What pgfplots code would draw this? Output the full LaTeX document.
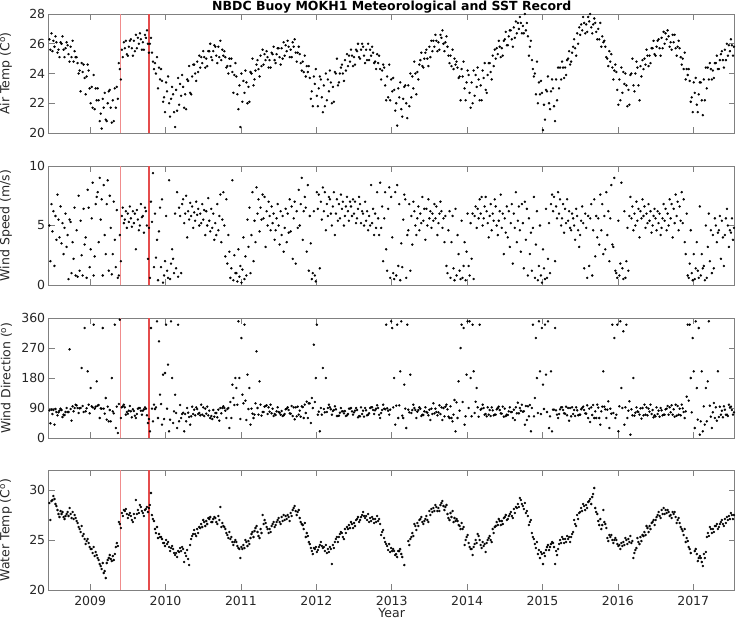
\documentclass[border=0pt]{standalone}
\usepackage{fontspec}
\setmainfont{DejaVu Sans}
\usepackage{pgfplots}
\pgfplotsset{compat=1.18}
\usepackage{pgfplotstable}

\pgfplotstableread{
x a1 a2 a3 s1 s2 s3 d1 d2 d3 w1 w2 w3
2008.46 26.3 25.6 26.7 5.0 2.0 6.8 83 44 85 28.7 27.0 28.9
2008.50 25.5 26.2 25.8 4.5 6.2 1.6 72 84 40 29.0 29.4 29.1
2008.54 26.5 26.1 25.4 5.8 3.8 7.6 87 78 68 28.6 28.4 28.0
2008.58 25.6 25.1 26.1 5.5 4.0 6.6 77 82 88 27.6 27.3 27.9
2008.62 26.0 26.5 25.6 3.5 5.2 2.6 84 63 70 27.6 27.8 27.3
2008.66 25.1 25.7 26.1 4.8 6.0 3.2 69 78 90 27.1 27.4 27.6
2008.70 25.9 25.3 24.8 4.2 0.5 5.5 78 78 266 27.8 27.4 28.2
2008.74 25.8 25.1 26.2 5.3 1.0 3.6 87 52 95 27.6 27.2 27.8
2008.78 24.8 25.5 25.1 2.2 6.5 0.8 80 90 100 27.1 27.5 27.2
2008.82 25.1 24.7 24.0 4.6 0.7 7.5 98 90 75 26.9 26.7 26.3
2008.86 24.2 22.8 24.7 1.2 5.4 2.5 89 90 210 26.1 25.8 26.4
2008.90 24.1 24.6 23.7 0.8 6.4 3.4 96 78 330 25.4 25.6 25.1
2008.94 22.6 23.8 24.6 4.0 0.6 8.0 80 89 200 24.6 24.9 25.1
2008.98 24.2 23.0 22.0 6.5 1.5 3.0 100 74 150 24.7 24.3 24.1
2009.02 23.1 21.7 23.9 5.6 8.6 0.8 95 92 340 24.1 23.7 24.3
2009.06 21.6 23.0 22.2 2.4 6.8 7.4 88 94 170 23.4 23.8 23.5
2009.10 23.0 22.2 20.8 7.8 3.6 9.0 97 99 60 23.2 23.0 22.6
2009.14 21.3 20.3 22.3 5.5 7.2 0.8 89 88 330 22.4 22.1 22.7
2009.18 21.7 22.7 20.9 8.4 4.2 2.6 88 73 120 21.7 21.9 21.2
2009.22 20.8 22.0 22.8 6.8 8.8 1.2 55 94 50 22.7 23.0 23.2
2009.26 22.9 21.7 20.7 7.5 4.8 0.9 84 50 180 23.5 23.1 22.9
2009.30 22.2 20.8 23.0 2.6 7.0 3.8 80 74 340 23.4 23.0 23.6
2009.34 21.7 23.1 22.3 1.5 6.3 0.6 30 94 15 24.3 24.7 24.4
2009.38 24.7 24.3 23.6 0.8 4.2 2.0 102 355 60 26.8 26.6 26.2
2009.42 25.6 25.1 26.1 5.8 6.5 5.2 92 95 100 27.7 27.4 28.0
2009.46 25.7 26.2 25.3 5.5 6.2 4.8 92 70 78 27.9 28.1 27.6
2009.50 25.2 25.8 26.2 6.0 5.3 6.6 73 82 96 27.2 27.5 27.7
2009.54 26.3 25.7 25.2 5.6 4.9 6.2 80 62 86 27.4 27.0 26.8
2009.58 26.2 25.5 26.6 5.2 6.0 3.0 81 67 60 27.6 27.2 29.0
2009.62 25.7 26.4 26.0 6.3 5.5 4.6 72 88 90 27.6 28.0 27.7
2009.66 26.7 26.3 25.6 5.0 6.8 5.7 90 82 70 28.5 28.3 27.9
2009.70 26.1 25.6 26.6 5.8 4.4 6.5 82 86 92 27.7 27.4 28.0
2009.74 26.4 26.9 26.0 6.2 5.0 2.2 88 68 45 28.1 28.3 27.8
2009.78 25.4 26.0 26.4 4.8 0.6 7.0 57 20 330 28.2 28.5 29.7
2009.82 25.4 24.8 24.3 5.3 9.4 1.5 88 50 100 27.5 27.1 26.9
2009.86 24.7 24.0 25.1 6.0 2.3 3.8 87 92 350 26.1 25.7 26.3
2009.90 23.0 24.4 23.6 0.4 4.5 6.5 60 290 130 25.2 25.6 25.3
2009.94 24.3 23.5 22.1 1.5 7.2 0.2 102 40 190 25.3 25.1 24.7
2009.98 22.4 21.4 23.4 0.8 2.0 5.8 57 195 340 24.7 24.4 25.0
2010.02 22.8 23.8 22.0 1.2 0.6 8.8 88 220 20 24.6 24.8 24.3
2010.06 21.1 22.3 23.1 0.5 1.8 3.0 55 350 180 23.9 24.2 24.4
2010.10 22.6 21.4 20.4 2.2 1.0 6.0 45 80 130 24.1 23.7 23.5
2010.14 22.9 21.5 23.7 1.4 7.8 0.7 75 30 340 23.7 23.3 23.9
2010.18 21.9 23.3 22.5 6.5 5.8 1.0 50 99 60 23.8 24.2 23.9
2010.22 23.9 23.1 21.7 6.8 7.2 5.2 72 76 20 24.3 24.1 22.8
2010.26 22.6 21.6 23.6 6.0 7.5 4.0 72 50 90 23.7 23.4 24.0
2010.30 23.5 24.5 22.7 6.2 5.5 6.9 76 63 40 23.1 22.5 24.5
2010.34 22.6 23.8 24.6 5.8 6.6 4.8 65 94 72 25.1 25.4 25.6
2010.38 24.6 24.0 23.5 6.1 5.4 7.0 85 68 92 26.0 25.6 25.4
2010.42 24.8 24.1 25.2 5.9 6.4 5.0 87 72 75 26.1 25.7 26.3
2010.46 24.4 25.1 24.7 6.0 5.2 6.8 68 100 70 26.2 26.6 26.3
2010.50 25.5 25.1 24.4 5.5 6.3 4.2 92 66 88 27.0 26.8 26.4
2010.54 25.0 24.5 25.5 6.2 5.0 7.3 73 94 68 26.9 26.6 27.2
2010.58 25.5 26.0 25.1 5.4 4.5 6.4 82 60 66 27.1 27.3 26.8
2010.62 24.9 25.5 25.9 4.8 6.0 3.8 57 84 64 26.8 27.1 27.3
2010.66 25.8 25.2 24.7 5.2 4.2 6.8 75 75 62 27.2 26.8 26.6
2010.70 25.8 25.1 26.2 4.6 5.8 7.6 85 52 90 27.4 27.0 28.3
2010.74 24.9 25.6 25.2 3.6 5.5 7.8 74 90 95 26.3 26.7 26.4
2010.78 25.5 25.1 24.4 5.0 2.4 7.2 90 82 60 26.3 26.1 25.7
2010.82 24.5 24.0 25.0 1.8 4.2 2.8 87 90 30 25.5 25.2 25.8
2010.86 24.5 25.0 24.1 0.6 1.4 8.8 108 60 160 25.1 25.3 24.8
2010.90 22.7 23.9 24.7 0.4 2.5 1.0 120 99 180 24.5 24.8 25.0
2010.94 23.8 22.6 21.6 1.0 0.3 3.0 150 100 350 24.8 24.4 24.2
2010.98 23.2 20.4 24.0 0.7 1.6 0.2 180 57 300 24.1 23.2 24.3
2011.02 22.1 23.5 22.7 1.3 4.0 0.5 130 104 340 24.1 24.5 24.2
2011.06 24.2 23.4 22.0 2.4 0.8 5.5 112 54 190 25.0 24.8 24.4
2011.10 23.1 22.1 24.1 3.2 6.5 1.0 87 150 40 24.9 24.6 25.2
2011.14 24.0 25.0 23.2 4.2 7.8 2.0 88 73 60 25.6 25.8 25.3
2011.18 23.6 24.2 24.6 5.4 3.6 8.2 70 104 260 25.9 26.2 26.4
2011.22 24.9 24.3 23.8 6.0 7.2 4.5 90 70 170 25.8 25.4 25.2
2011.26 25.2 24.5 25.6 6.5 5.5 7.6 100 67 78 26.1 25.7 27.5
2011.30 24.6 25.3 24.9 5.6 7.4 3.2 78 94 96 26.6 27.0 26.7
2011.34 25.5 25.1 24.4 6.2 5.0 7.0 98 72 92 26.3 26.1 25.7
2011.38 24.9 24.4 25.4 5.8 4.6 6.6 79 100 74 26.1 25.8 26.4
2011.42 25.3 25.8 24.9 5.2 6.0 3.8 88 66 72 26.6 26.8 26.3
2011.46 24.7 25.3 25.7 4.6 5.6 6.8 69 80 92 26.5 26.8 27.0
2011.50 25.7 25.1 24.6 5.0 3.4 6.2 78 76 70 27.2 26.8 26.6
2011.54 25.7 25.0 26.1 4.2 5.8 2.8 81 66 68 27.3 26.9 27.5
2011.58 25.2 25.9 25.5 4.8 6.4 3.6 72 86 88 27.0 27.4 27.1
2011.62 26.2 25.8 25.1 6.0 4.4 7.2 92 84 74 27.5 27.3 26.9
2011.66 25.6 25.1 26.1 4.5 6.6 2.2 73 96 66 27.7 27.4 28.0
2011.70 25.8 26.3 25.4 5.6 7.0 1.8 92 56 92 28.2 28.4 27.9
2011.74 24.8 25.4 25.8 6.2 4.8 8.0 65 94 70 27.5 27.8 28.0
2011.78 25.3 24.7 24.2 5.0 6.8 9.0 82 64 95 27.2 26.8 26.6
2011.82 24.8 24.1 25.2 3.8 6.2 7.4 93 60 100 26.5 26.1 26.7
2011.86 23.8 24.5 24.1 6.5 2.8 8.4 75 109 60 25.3 25.7 25.4
2011.90 24.5 23.7 22.3 1.2 5.8 3.5 104 104 45 24.8 24.6 24.2
2011.94 22.8 21.8 23.8 0.5 1.0 6.2 120 90 280 23.9 23.6 24.2
2011.98 23.3 24.3 22.5 0.8 0.3 7.8 108 180 340 24.1 24.3 23.8
2012.02 21.8 23.0 23.8 6.4 7.6 1.4 70 79 20 24.0 24.3 24.5
2012.06 23.6 22.4 21.4 7.0 5.5 8.2 90 70 210 24.8 24.4 24.2
2012.10 23.2 21.8 24.0 6.2 7.8 4.6 87 77 180 24.3 23.9 24.5
2012.14 22.2 23.6 22.8 6.8 5.8 7.4 78 90 100 23.7 24.1 23.8
2012.18 24.2 23.4 22.0 7.2 6.0 5.0 92 86 70 24.3 24.1 22.6
2012.22 23.1 22.1 24.1 6.6 7.8 4.2 81 84 95 24.5 24.2 24.8
2012.26 24.0 25.0 23.2 6.0 7.2 5.4 86 66 66 25.1 25.3 24.8
2012.30 23.4 24.0 24.4 6.8 5.6 7.6 67 76 90 25.3 25.6 25.8
2012.34 24.6 24.0 23.5 6.4 7.0 5.0 80 80 74 25.7 25.3 25.1
2012.38 24.9 24.2 25.3 5.8 6.6 7.4 81 66 68 26.1 25.7 26.3
2012.42 24.5 25.2 24.8 6.2 5.4 7.0 72 88 88 26.1 26.5 26.2
2012.46 25.6 25.2 24.5 6.6 5.8 7.2 90 80 70 26.8 26.6 26.2
2012.50 25.1 24.6 25.6 6.0 7.0 5.2 77 82 90 26.7 26.4 27.0
2012.54 25.5 26.0 25.1 5.6 6.4 7.4 84 62 66 27.1 27.3 26.8
2012.58 25.0 25.6 26.0 6.8 5.2 6.2 65 92 72 27.0 27.3 27.5
2012.62 25.8 25.2 24.7 6.0 5.0 7.0 82 64 90 27.8 27.4 27.2
2012.66 25.6 24.9 26.0 5.4 6.2 4.6 83 68 70 27.4 27.0 27.6
2012.70 24.9 25.6 25.2 5.8 5.0 8.4 74 90 92 26.8 27.2 26.9
2012.74 25.8 25.4 24.7 5.2 6.4 4.2 92 84 72 27.3 27.1 26.7
2012.78 24.8 24.3 25.3 6.0 4.8 7.8 83 88 98 27.1 26.8 27.4
2012.82 24.7 25.2 24.3 5.6 4.2 8.6 90 70 60 26.9 27.1 26.6
2012.86 23.6 24.2 24.6 4.8 6.6 2.0 75 84 100 25.5 25.8 26.0
2012.90 24.4 23.2 22.2 5.6 7.8 3.0 88 86 340 25.2 24.8 24.6
2012.94 23.8 22.4 24.6 1.2 6.4 8.2 89 82 70 24.4 24.0 24.6
2012.98 22.2 23.6 22.8 0.6 7.4 4.0 85 350 330 23.8 24.2 23.9
2013.02 23.7 22.9 21.5 1.0 0.5 7.8 92 180 40 24.1 23.9 23.5
2013.06 22.0 20.5 23.0 0.8 8.4 1.6 97 340 60 23.6 23.3 23.9
2013.10 22.4 23.4 21.6 6.8 0.4 3.5 98 200 350 23.9 24.1 23.6
2013.14 21.1 22.3 23.1 1.5 5.5 7.6 67 60 160 23.3 nan 22.5
2013.18 23.2 22.0 21.0 7.2 0.6 4.2 88 30 340 nan nan nan
2013.22 23.2 21.8 24.0 4.6 6.8 1.2 85 77 190 24.9 24.5 25.1
2013.26 22.4 23.8 23.0 5.8 3.4 7.0 75 84 100 25.3 25.7 25.4
2013.30 24.8 24.0 22.6 6.2 5.0 4.2 90 84 60 26.6 26.4 26.0
2013.34 24.1 23.6 24.6 5.6 6.6 4.6 79 84 92 26.7 26.4 27.0
2013.38 24.9 25.4 24.5 6.0 5.2 7.4 88 66 70 27.1 27.3 26.8
2013.42 24.4 25.0 25.4 5.4 6.4 3.8 69 80 92 26.6 26.9 27.1
2013.46 25.6 25.0 24.5 6.4 5.0 7.2 78 76 68 27.4 27.0 26.8
2013.50 25.8 25.1 26.2 5.6 6.2 4.8 85 54 88 27.9 27.5 28.1
2013.54 25.5 26.2 25.8 6.0 5.4 6.8 72 104 74 27.8 28.2 27.9
2013.58 26.6 26.2 25.5 5.6 6.6 4.2 88 78 68 28.5 28.3 27.9
2013.62 26.1 25.6 26.6 5.2 6.0 7.0 77 98 72 28.2 27.9 28.5
2013.66 26.4 26.9 26.0 6.2 4.8 5.6 92 54 90 28.7 28.9 28.4
2013.70 25.5 26.1 26.5 3.6 5.8 1.6 65 94 100 28.0 28.3 28.5
2013.74 25.8 25.2 24.7 1.0 4.6 6.2 86 64 60 27.6 27.2 27.0
2013.78 25.2 24.5 25.6 0.6 3.6 5.8 95 60 50 27.7 27.3 27.9
2013.82 24.3 25.0 24.6 1.4 0.4 6.4 70 114 20 26.8 27.2 26.9
2013.86 24.8 24.4 23.7 0.8 4.2 2.6 107 60 170 27.1 26.9 26.5
2013.90 23.8 22.2 24.3 1.2 0.5 5.4 82 270 340 26.4 26.1 26.7
2013.94 23.8 24.8 23.0 0.6 1.6 3.6 108 330 40 26.1 26.3 24.5
2013.98 22.2 23.4 24.2 0.4 2.8 6.0 65 190 350 25.0 25.3 25.5
2014.02 23.9 22.7 21.7 1.6 0.8 5.2 90 350 180 24.7 24.3 24.1
2014.06 23.4 22.0 24.2 2.2 6.0 0.5 65 340 200 24.1 23.5 24.3
2014.10 22.5 23.9 23.1 5.8 6.6 4.8 75 109 150 24.6 25.0 24.7
2014.14 24.4 23.6 22.2 6.4 5.6 7.2 92 64 340 25.6 25.4 25.0
2014.18 23.2 22.2 24.2 6.0 7.4 5.0 85 88 100 24.5 24.2 24.8
2014.22 23.7 24.7 22.9 5.6 6.6 7.4 90 70 72 24.4 24.6 23.8
2014.26 22.7 23.9 24.7 6.2 5.2 4.0 65 92 70 24.7 25.0 25.2
2014.30 24.7 24.1 23.6 5.8 6.8 4.6 84 66 92 25.4 25.0 24.8
2014.34 25.2 24.5 25.6 6.0 5.4 7.2 83 68 70 26.1 25.7 26.3
2014.38 25.0 25.7 25.3 6.6 5.0 4.2 70 86 90 26.4 26.8 26.5
2014.42 26.2 25.8 25.1 5.4 6.2 7.6 94 84 74 27.1 26.9 26.5
2014.46 25.7 25.2 26.2 4.8 6.0 2.6 73 94 64 26.9 26.6 27.2
2014.50 26.3 26.8 25.9 5.6 4.4 6.6 88 66 70 27.3 27.5 27.0
2014.54 25.9 26.5 26.9 4.0 6.2 3.2 69 80 92 27.1 27.4 27.6
2014.58 26.9 26.3 25.8 5.2 6.8 1.8 78 78 60 27.8 27.4 27.2
2014.62 27.1 26.4 27.5 6.0 4.8 7.8 85 54 92 28.1 27.7 28.3
2014.66 26.7 27.4 27.0 3.6 5.4 6.6 74 106 74 28.2 28.6 28.3
2014.70 27.8 27.4 26.7 4.6 2.8 6.8 90 82 100 29.2 29.0 28.6
2014.74 27.2 26.7 28.0 5.2 1.4 7.0 79 80 40 28.4 28.1 28.7
2014.78 26.9 27.4 26.5 3.8 6.4 0.8 96 54 95 27.7 27.9 27.4
2014.82 25.2 25.8 26.2 5.6 2.6 4.4 65 99 20 26.5 26.8 27.0
2014.86 24.9 24.3 23.8 1.2 4.8 7.4 90 340 65 25.7 25.3 25.1
2014.90 24.0 22.6 24.8 0.6 3.4 6.2 120 300 180 24.6 24.2 24.8
2014.94 22.0 23.4 22.6 0.4 1.6 5.0 75 350 200 23.6 24.0 23.2
2014.98 23.5 22.7 20.2 0.8 0.2 3.0 72 330 160 23.8 23.6 22.6
2015.02 21.9 20.9 22.9 1.4 0.5 6.4 87 340 190 23.7 23.4 24.0
2015.06 22.8 23.8 22.0 0.6 2.2 5.2 78 350 30 24.3 24.5 24.0
2015.10 21.6 22.8 23.6 1.0 6.8 7.6 65 200 20 24.3 24.6 24.8
2015.14 23.0 21.8 20.8 6.2 7.4 2.0 85 85 330 24.7 24.3 22.6
2015.18 23.6 22.2 24.4 6.6 5.6 7.8 83 70 60 23.9 23.5 24.1
2015.22 23.0 24.4 23.6 6.0 7.2 5.0 72 86 92 24.6 25.0 24.7
2015.26 24.8 24.4 23.7 5.6 6.8 4.4 92 84 74 25.3 25.1 24.7
2015.30 24.4 23.9 24.9 6.4 5.2 7.2 73 94 68 25.1 24.8 25.4
2015.34 25.0 25.5 24.6 5.4 6.2 4.8 90 52 90 25.1 25.3 24.8
2015.38 24.8 25.4 25.8 4.6 6.0 5.6 65 92 72 25.3 25.6 25.8
2015.42 26.3 25.7 25.2 5.0 3.8 6.4 84 66 92 27.0 26.6 26.4
2015.46 26.7 26.0 27.1 5.8 4.6 3.2 83 68 70 27.5 27.1 27.7
2015.50 26.6 27.3 26.9 4.2 5.4 6.6 70 86 90 27.8 28.2 27.9
2015.54 27.8 27.4 26.7 5.2 1.4 6.0 94 84 74 28.6 28.4 28.0
2015.58 27.3 26.8 27.8 4.8 0.6 5.8 73 98 60 28.5 28.2 28.8
2015.62 27.5 28.0 27.1 1.6 5.6 6.8 88 48 92 28.9 29.1 28.6
2015.66 26.7 27.3 27.7 0.8 4.6 7.2 69 99 60 29.3 29.6 30.2
2015.70 27.4 26.8 26.3 2.4 5.8 4.0 80 60 100 28.2 27.8 27.6
2015.74 27.0 26.3 27.4 5.6 3.4 7.6 91 60 40 26.9 26.5 27.1
2015.78 25.8 26.5 26.1 4.6 6.8 2.6 80 94 200 26.1 26.5 28.0
2015.82 26.2 25.8 25.1 5.8 3.0 7.8 94 86 60 26.8 26.6 26.2
2015.86 25.0 24.5 25.5 4.2 6.2 2.0 85 110 30 25.2 24.9 25.5
2015.90 24.8 25.3 24.4 5.6 8.4 3.4 88 73 340 25.3 25.5 25.0
2015.94 23.6 24.2 24.6 3.2 9.0 1.2 75 300 60 24.7 25.0 25.2
2015.98 24.1 22.9 21.9 1.0 0.6 5.4 70 340 20 25.0 24.6 24.4
2016.02 23.6 22.2 24.4 0.8 1.8 8.6 95 350 150 24.5 24.1 24.7
2016.06 22.7 24.1 23.3 1.4 0.5 6.2 90 320 40 24.4 24.8 24.5
2016.10 24.0 23.2 21.8 0.6 2.0 4.8 92 340 60 25.2 25.0 24.6
2016.14 22.9 21.9 23.9 1.2 5.8 7.4 82 110 10 25.1 24.8 25.4
2016.18 24.0 25.0 23.2 5.6 6.6 4.6 86 68 180 24.7 24.9 23.2
2016.22 22.8 24.0 24.8 6.0 5.0 7.0 67 76 92 23.7 24.0 24.2
2016.26 24.4 23.2 22.2 5.4 6.4 4.0 80 78 70 25.2 24.8 24.6
2016.30 24.5 23.8 24.9 6.2 5.6 7.2 89 58 90 25.3 24.9 25.5
2016.34 24.3 25.0 24.6 5.8 6.6 4.8 68 100 70 25.4 25.8 25.5
2016.38 25.6 25.2 24.5 6.0 5.2 6.8 92 68 88 26.4 26.2 25.8
2016.42 25.2 24.7 25.7 5.4 6.2 4.4 79 100 72 26.4 26.1 26.7
2016.46 25.7 26.2 25.3 5.0 5.8 6.4 84 62 68 26.8 27.0 26.5
2016.50 25.2 25.8 26.2 5.6 4.6 6.2 65 92 72 27.0 27.3 27.5
2016.54 26.3 25.7 25.2 5.2 6.0 4.2 82 64 90 27.8 27.4 27.2
2016.58 26.4 25.7 26.8 4.8 5.6 6.8 83 68 70 28.0 27.6 28.2
2016.62 26.0 26.7 26.3 5.4 6.4 4.6 70 86 88 27.6 28.0 27.7
2016.66 26.9 26.5 25.8 6.0 5.0 7.2 96 70 92 28.0 27.8 27.4
2016.70 26.1 25.6 26.6 5.6 6.8 4.0 77 98 70 27.5 27.2 27.8
2016.74 26.1 26.6 25.7 6.4 5.2 7.6 86 64 100 27.6 27.8 27.3
2016.78 25.2 25.8 26.2 5.8 7.0 4.6 67 96 70 26.7 27.0 27.2
2016.82 25.7 25.1 24.6 6.6 5.4 7.8 88 68 100 26.7 26.3 26.1
2016.86 25.0 24.3 25.4 5.2 7.2 3.6 89 78 60 25.9 25.5 26.1
2016.90 23.6 24.3 23.9 2.6 6.0 0.8 80 124 340 24.8 25.2 24.9
2016.94 24.3 23.5 22.1 0.6 1.8 4.6 112 340 180 24.3 24.1 23.7
2016.98 22.4 21.4 23.4 1.0 0.4 2.6 77 300 200 nan nan nan
2017.02 22.7 23.7 21.9 0.5 1.4 3.6 30 350 150 23.9 24.1 23.6
2017.06 21.4 22.6 23.4 1.2 0.6 6.6 55 330 10 22.9 23.2 23.4
2017.10 23.4 22.2 21.2 0.8 2.6 1.4 50 200 20 23.2 22.8 22.4
2017.14 23.6 22.2 24.4 1.6 0.4 5.0 95 40 150 23.6 23.2 23.8
2017.18 23.0 24.4 23.6 0.6 3.2 6.0 50 170 350 25.3 25.7 25.4
2017.22 24.7 24.3 23.6 2.0 4.6 1.0 97 64 30 26.3 26.1 25.7
2017.26 24.2 23.7 24.7 4.2 1.4 5.6 77 105 60 26.1 25.8 26.4
2017.30 24.7 25.2 24.3 5.0 3.6 4.4 92 52 200 26.4 26.6 26.1
2017.34 24.3 24.9 25.3 4.6 5.8 2.2 63 94 70 26.3 26.6 26.8
2017.38 25.5 24.9 24.4 5.4 4.0 1.6 82 62 95 27.0 26.6 26.4
2017.42 25.6 24.9 26.0 4.2 5.6 6.4 85 70 70 27.1 26.7 27.3
2017.46 25.2 25.9 25.5 5.0 3.2 4.6 66 100 92 27.0 27.4 27.1
2017.50 26.3 25.9 25.2 4.4 5.6 3.8 94 84 70 27.7 27.5 27.1
2017.54 25.8 25.3 26.3 4.8 6.0 2.8 77 84 90 27.5 27.2 27.8
}\data

\definecolor{axgray}{gray}{0.5}
\definecolor{lineone}{rgb}{0.94,0.55,0.55}
\definecolor{linetwo}{rgb}{0.90,0.30,0.30}

\pgfplotsset{
  panel/.style={
    scale only axis, width=686pt, anchor=south west,
    xmin=2008.45, xmax=2017.55,
    xtick={2009,2010,2011,2012,2013,2014,2015,2016,2017},
    tick align=inside, major tick length=6pt,
    axis line style={draw=axgray, line width=0.7pt},
    every tick/.style={axgray, line width=0.6pt},
    tick label style={font=\fontsize{12.5}{14}\selectfont, text=black!85},
    label style={font=\fontsize{12.5}{14}\selectfont, text=black!85},
    /pgf/number format/assume math mode=true,
    /pgf/number format/1000 sep={},
    ylabel style={at={(axis description cs:-0.0482,0.5)}, anchor=south},
  },
  dots/.style={only marks, mark=*, mark size=1pt, black},
}

\begin{document}
\begin{tikzpicture}
% Panel 1: air temperature
\begin{axis}[panel, at={(48.7pt,-133pt)}, height=119pt,
  ymin=20, ymax=28, ytick={20,22,24,26,28}, xticklabels={},
  ylabel={Air Temp (C\textsuperscript{o})},
  title={NBDC Buoy MOKH1 Meteorological and SST Record},
  title style={font=\bfseries\fontsize{12.5}{14}\selectfont, at={(axis description cs:0.5,1)}, anchor=south, yshift=-6pt, inner sep=1pt}]
\addplot[dots] table[x=x, y=a1] {\data};
\addplot[dots] table[x expr=\thisrow{x}+0.013, y=a2] {\data};
\addplot[dots] table[x expr=\thisrow{x}+0.027, y=a3] {\data};
\addplot[draw=linetwo, line width=1.3pt] coordinates {(2009.78,20) (2009.78,28)};
\addplot[draw=lineone, line width=1.1pt] coordinates {(2009.407,20) (2009.407,28)};
\end{axis}
% Panel 2: wind speed
\begin{axis}[panel, at={(48.7pt,-285pt)}, height=119pt,
  ymin=0, ymax=10, ytick={0,5,10}, xticklabels={},
  ylabel={Wind Speed (m/s)}]
\addplot[dots] table[x=x, y=s1] {\data};
\addplot[dots] table[x expr=\thisrow{x}+0.013, y=s2] {\data};
\addplot[dots] table[x expr=\thisrow{x}+0.027, y=s3] {\data};
\addplot[draw=linetwo, line width=1.3pt] coordinates {(2009.78,0) (2009.78,10)};
\addplot[draw=lineone, line width=1.1pt] coordinates {(2009.407,0) (2009.407,10)};
\end{axis}
% Panel 3: wind direction
\begin{axis}[panel, at={(48.7pt,-438pt)}, height=120pt,
  ymin=0, ymax=360, ytick={0,90,180,270,360}, xticklabels={},
  ylabel={Wind Direction (\textsuperscript{o})}]
\addplot[dots] table[x=x, y=d1] {\data};
\addplot[dots] table[x expr=\thisrow{x}+0.013, y=d2] {\data};
\addplot[dots] table[x expr=\thisrow{x}+0.027, y=d3] {\data};
\addplot[draw=linetwo, line width=1.3pt] coordinates {(2009.78,0) (2009.78,360)};
\addplot[draw=lineone, line width=1.1pt] coordinates {(2009.407,0) (2009.407,360)};
\end{axis}
% Panel 4: water temperature
\begin{axis}[panel, at={(48.7pt,-590pt)}, height=120pt,
  ymin=20, ymax=32, ytick={20,25,30},
  xlabel={Year},
  xlabel style={at={(axis description cs:0.5,0)}, anchor=north, yshift=-18pt, inner sep=0pt},
  xticklabel style={yshift=-3pt},
  ylabel={Water Temp (C\textsuperscript{o})}]
\addplot[dots] table[x=x, y=w1] {\data};
\addplot[dots] table[x expr=\thisrow{x}+0.013, y=w2] {\data};
\addplot[dots] table[x expr=\thisrow{x}+0.027, y=w3] {\data};
\addplot[draw=linetwo, line width=1.3pt] coordinates {(2009.78,20) (2009.78,32)};
\addplot[draw=lineone, line width=1.1pt] coordinates {(2009.407,20) (2009.407,32)};
\end{axis}
\pgfresetboundingbox
\path[use as bounding box] (0,0) rectangle (736pt,-625pt);
\end{tikzpicture}
\end{document}
